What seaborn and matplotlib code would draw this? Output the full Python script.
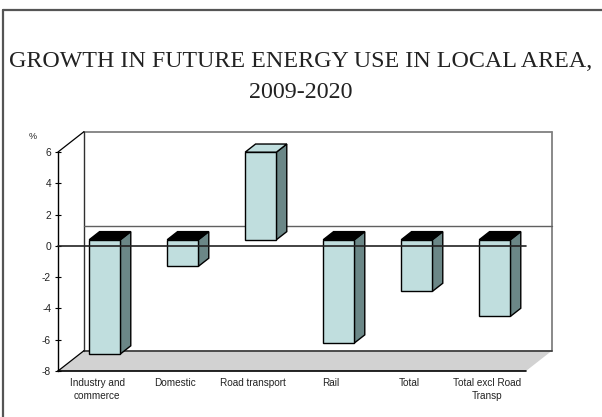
import matplotlib
matplotlib.use("Agg")
import matplotlib.pyplot as plt
from matplotlib.patches import Polygon
from matplotlib.lines import Line2D
import seaborn as sns
import pandas as pd

# Data
categories = ["Industry and\ncommerce", "Domestic", "Road transport", "Rail", "Total",
              "Total excl Road\nTransp"]
growth_pct = [-7.3, -1.7, 5.6, -6.6, -3.3, -4.9]
y_ticks = [-8, -6, -4, -2, 0, 2, 4, 6]
title = "GROWTH IN FUTURE ENERGY USE IN LOCAL AREA,\n2009-2020"

df = pd.DataFrame({"category": categories, "growth": growth_pct})

FRONT = "#c0dede"
SIDE = "#6b8787"
FLOOR = "#d2d2d2"
WALL = "#808080"

sns.set_theme(style="white")
plt.rcParams["font.family"] = ["Liberation Sans", "DejaVu Sans"]

W, H = 602, 417
fig = plt.figure(figsize=(W / 100, H / 100), dpi=100)
ax = fig.add_axes([58 / W, 46 / H, 468 / W, 219 / H])

ymin, ymax = -8, 6
xmin, xmax = -0.5, len(categories) - 0.5
DX, DY = 0.333, 1.3          # depth of the 3-D box in data units
BAR_FRONT, BAR_BACK = 0.3, 0.7  # bar slab position inside the depth

sns.barplot(data=df, x="category", y="growth", width=0.4, color=FRONT,
            saturation=1, edgecolor="black", linewidth=1, ax=ax, zorder=3)
ax.set_xlim(xmin, xmax)
ax.set_ylim(ymin, ymax)

# Floor
floor = Polygon([(xmin, ymin), (xmax, ymin), (xmax + DX, ymin + DY), (xmin + DX, ymin + DY)],
                closed=True, facecolor=FLOOR, edgecolor="none", clip_on=False, zorder=0)
ax.add_patch(floor)
# Back wall edges
kw = dict(color=WALL, lw=1.3, clip_on=False, zorder=1)
ax.add_line(Line2D([xmin + DX, xmax + DX], [ymax + DY, ymax + DY], **kw))
ax.add_line(Line2D([xmax + DX, xmax + DX], [ymin + DY, ymax + DY], **kw))
ax.add_line(Line2D([xmin + DX, xmax + DX], [ymin + DY, ymin + DY], color="#404040", lw=1.3,
                   clip_on=False, zorder=1))
ax.add_line(Line2D([xmin + DX, xmin + DX], [ymin + DY, ymax + DY], color="#303030", lw=1.0,
                   clip_on=False, zorder=1))
ax.add_line(Line2D([xmin + DX, xmax + DX], [DY, DY], color="#606060", lw=1.0,
                   clip_on=False, zorder=1))
# Depth diagonals at the left edge
ax.add_line(Line2D([xmin, xmin + DX], [ymax, ymax + DY], color="black", lw=0.9, clip_on=False, zorder=1))
ax.add_line(Line2D([xmin, xmin + DX], [ymin, ymin + DY], color="black", lw=0.9, clip_on=False, zorder=1))
# Floor front edge
ax.add_line(Line2D([xmin, xmax], [ymin, ymin], color="black", lw=1.2, clip_on=False, zorder=2))

# Turn flat bars into 3-D slabs
sx, sy = BAR_FRONT * DX, BAR_FRONT * DY
ddx, ddy = (BAR_BACK - BAR_FRONT) * DX, (BAR_BACK - BAR_FRONT) * DY
for p, v in zip(ax.patches[:len(growth_pct)], growth_pct):
    p.set_x(p.get_x() + sx)
    p.set_y(p.get_y() + sy)
    x0, w = p.get_x(), p.get_width()
    lo = sy + min(0, v)
    hi = sy + max(0, v)
    side = Polygon([(x0 + w, lo), (x0 + w, hi), (x0 + w + ddx, hi + ddy), (x0 + w + ddx, lo + ddy)],
                   closed=True, facecolor=SIDE, edgecolor="black", lw=1, zorder=2.9, clip_on=False)
    top = Polygon([(x0, hi), (x0 + w, hi), (x0 + w + ddx, hi + ddy), (x0 + ddx, hi + ddy)],
                  closed=True, facecolor=("black" if v < 0 else FRONT), edgecolor="black",
                  lw=1, zorder=2.9, clip_on=False)
    ax.add_patch(side)
    ax.add_patch(top)

# Zero line on the front plane
ax.add_line(Line2D([xmin, xmax], [0, 0], color="#222222", lw=1.2, zorder=5, clip_on=False))

# Axes styling
for s in ["top", "right", "bottom"]:
    ax.spines[s].set_visible(False)
ax.spines["left"].set_color("black")
ax.spines["left"].set_linewidth(1.0)
ax.set_facecolor("none")
ax.set_yticks(y_ticks)
ax.set_yticklabels([str(t) for t in y_ticks], fontsize=7.4, color="#222222")
ax.tick_params(axis="y", direction="inout", length=4, width=0.8, color="black", pad=3, left=True)
ax.tick_params(axis="x", length=0, pad=5)
for lab in ax.get_xticklabels():
    lab.set_fontsize(7.2)
    lab.set_color("#222222")
    lab.set_linespacing(1.4)
ax.set_xlabel("")
ax.set_ylabel("")
ax.text(-0.055, 1.07, "%", transform=ax.transAxes, fontsize=6.5, color="#222222",
        ha="center", va="center")

# Title
fig.text(0.5, 1 - 77 / H, title, ha="center", va="center", fontsize=17.3,
         family=["Liberation Serif", "DejaVu Serif"], color="#222222", linespacing=1.6)

# Outer frame (top and left edges)
fig.add_artist(Line2D([3 / W, 1], [1 - 10 / H, 1 - 10 / H], transform=fig.transFigure,
                      color="#555555", lw=1.6))
fig.add_artist(Line2D([3 / W, 3 / W], [0, 1 - 10 / H], transform=fig.transFigure,
                      color="#555555", lw=1.6))

fig.savefig("out.png", dpi=100)
